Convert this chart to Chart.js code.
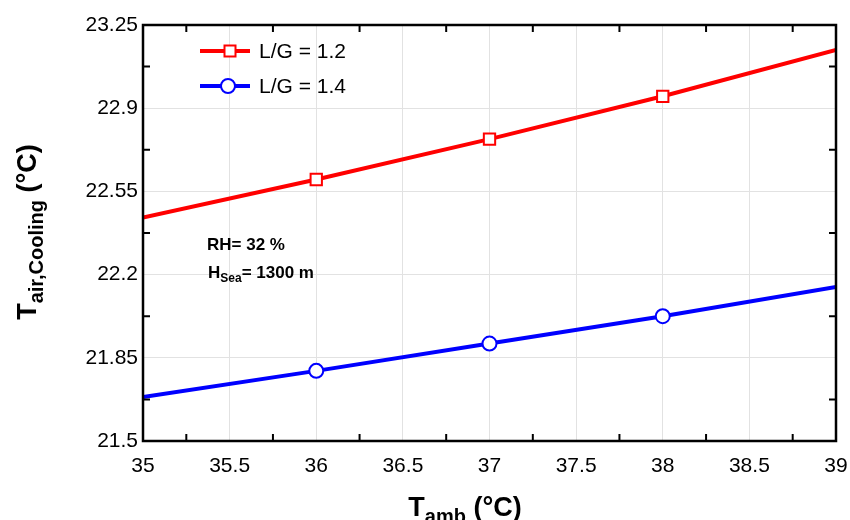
<!DOCTYPE html>
<html>
<head>
<meta charset="utf-8">
<script src="https://cdn.jsdelivr.net/npm/chart.js@4.4.1/dist/chart.umd.min.js"></script>
<style>
  body { margin: 0; background: #fff; }
  #wrap { width: 850px; height: 520px; }
</style>
</head>
<body>
<div id="wrap"><canvas id="tairChart" width="850" height="520"></canvas></div>
<script>
// values
const tAmb = [35, 36, 37, 38, 39];
const lg12 = [22.44, 22.60, 22.77, 22.95, 23.145];
const lg14 = [21.685, 21.795, 21.91, 22.025, 22.148];
const yTicks = [21.5, 21.85, 22.2, 22.55, 22.9, 23.25];
const xTicks = [35, 35.5, 36, 36.5, 37, 37.5, 38, 38.5, 39];
const seriesNames = ['L/G = 1.2', 'L/G = 1.4'];

const FONT = 'Liberation Sans, Arial, sans-serif';

// markers only on the inner points, line runs end to end
const markerR = (r) => tAmb.map((t, i) => (i === 0 || i === tAmb.length - 1) ? 0 : r);

// frame, minor ticks, legend, notes and axis titles with subscripts
const extrasPlugin = {
  id: 'extras',
  afterDraw(chart) {
    const ctx = chart.ctx;
    const a = chart.chartArea;
    const xs = chart.scales.x, ys = chart.scales.y;
    ctx.save();

    // minor ticks pointing inward
    ctx.strokeStyle = '#000';
    ctx.lineWidth = 2;
    const tl = 7;
    for (let i = 0; i < xTicks.length - 1; i++) {
      const px = xs.getPixelForValue((xTicks[i] + xTicks[i + 1]) / 2);
      ctx.beginPath();
      ctx.moveTo(px, a.bottom); ctx.lineTo(px, a.bottom - tl);
      ctx.moveTo(px, a.top); ctx.lineTo(px, a.top + tl);
      ctx.stroke();
    }
    for (let i = 0; i < yTicks.length - 1; i++) {
      const py = ys.getPixelForValue((yTicks[i] + yTicks[i + 1]) / 2);
      ctx.beginPath();
      ctx.moveTo(a.left, py); ctx.lineTo(a.left + tl, py);
      ctx.moveTo(a.right, py); ctx.lineTo(a.right - tl, py);
      ctx.stroke();
    }

    // frame
    ctx.lineWidth = 2.5;
    ctx.strokeRect(a.left, a.top, a.right - a.left, a.bottom - a.top);

    // legend
    const legend = [
      { name: seriesNames[0], color: '#ff0000', style: 'rect', y: 51 },
      { name: seriesNames[1], color: '#0000ff', style: 'circle', y: 86 }
    ];
    legend.forEach((l) => {
      ctx.strokeStyle = l.color;
      ctx.lineWidth = 4;
      ctx.beginPath();
      ctx.moveTo(200, l.y); ctx.lineTo(250, l.y);
      ctx.stroke();
      ctx.fillStyle = '#fff';
      ctx.lineWidth = 2;
      ctx.beginPath();
      if (l.style === 'rect') ctx.rect(224.5, l.y - 5.5, 11, 11);
      else ctx.arc(228, l.y, 7, 0, Math.PI * 2);
      ctx.fill(); ctx.stroke();
      ctx.fillStyle = '#000';
      ctx.font = '21px ' + FONT;
      ctx.textAlign = 'left';
      ctx.textBaseline = 'middle';
      ctx.fillText(l.name, 259, l.y + 1);
    });

    // notes
    ctx.fillStyle = '#000';
    ctx.textBaseline = 'alphabetic';
    ctx.font = 'bold 17px ' + FONT;
    ctx.fillText('RH= 32 %', 207, 250);
    ctx.fillText('H', 208, 278);
    let w = ctx.measureText('H').width;
    ctx.font = 'bold 12px ' + FONT;
    ctx.fillText('Sea', 208 + w, 282);
    const w2 = ctx.measureText('Sea').width;
    ctx.font = 'bold 17px ' + FONT;
    ctx.fillText('= 1300 m', 208 + w + w2, 278);

    // axis titles: big T, subscript, then unit
    const drawSubTitle = (main, sub, rest, x, y) => {
      ctx.font = 'bold 27px ' + FONT;
      const m = ctx.measureText(main).width;
      ctx.font = 'bold 20px ' + FONT;
      const s = ctx.measureText(sub).width;
      ctx.font = 'bold 27px ' + FONT;
      const r = ctx.measureText(rest).width;
      let cx = x - (m + s + r) / 2;
      ctx.textAlign = 'left';
      ctx.fillText(main, cx, y); cx += m;
      ctx.font = 'bold 20px ' + FONT;
      ctx.fillText(sub, cx, y + 7); cx += s;
      ctx.font = 'bold 27px ' + FONT;
      ctx.fillText(rest, cx, y);
    };
    drawSubTitle('T', 'amb', ' (°C)', 465, 516);

    ctx.translate(36, 232);
    ctx.rotate(-Math.PI / 2);
    drawSubTitle('T', 'air,Cooling', ' (°C)', 0, 0);

    ctx.restore();
  }
};

const ctx = document.getElementById('tairChart').getContext('2d');
new Chart(ctx, {
  type: 'line',
  data: {
    labels: tAmb,
    datasets: [
      {
        label: seriesNames[0],
        data: tAmb.map((t, i) => ({ x: t, y: lg12[i] })),
        borderColor: '#ff0000',
        backgroundColor: '#ffffff',
        borderWidth: 4,
        pointStyle: 'rect',
        pointRadius: markerR(8),
        pointBorderWidth: 2,
        tension: 0
      },
      {
        label: seriesNames[1],
        data: tAmb.map((t, i) => ({ x: t, y: lg14[i] })),
        borderColor: '#0000ff',
        backgroundColor: '#ffffff',
        borderWidth: 4,
        pointStyle: 'circle',
        pointRadius: markerR(7),
        pointBorderWidth: 2,
        tension: 0
      }
    ]
  },
  options: {
    responsive: false,
    animation: false,
    events: [],
    layout: { padding: { top: 25, right: 14, left: 0, bottom: 0 } },
    plugins: {
      legend: { display: false },
      tooltip: { enabled: false }
    },
    scales: {
      x: {
        type: 'linear',
        min: 35,
        max: 39,
        afterBuildTicks: (s) => { s.ticks = xTicks.map((v) => ({ value: v })); },
        afterFit: (s) => { s.height = 79; s.paddingRight = 0; s.paddingLeft = 0; },
        grid: { color: '#e2e2e2', lineWidth: 1, drawTicks: false },
        border: { display: false },
        ticks: {
          padding: 13,
          color: '#000',
          font: { family: FONT, size: 21 },
          callback: (v) => String(v)
        }
      },
      y: {
        type: 'linear',
        min: 21.5,
        max: 23.25,
        afterBuildTicks: (s) => { s.ticks = yTicks.map((v) => ({ value: v })); },
        afterFit: (s) => { s.width = 143; },
        grid: { color: '#e2e2e2', lineWidth: 1, drawTicks: false },
        border: { display: false },
        ticks: {
          padding: 5,
          color: '#000',
          font: { family: FONT, size: 21 },
          callback: (v) => String(v)
        }
      }
    }
  },
  plugins: [extrasPlugin]
});
</script>
</body>
</html>
